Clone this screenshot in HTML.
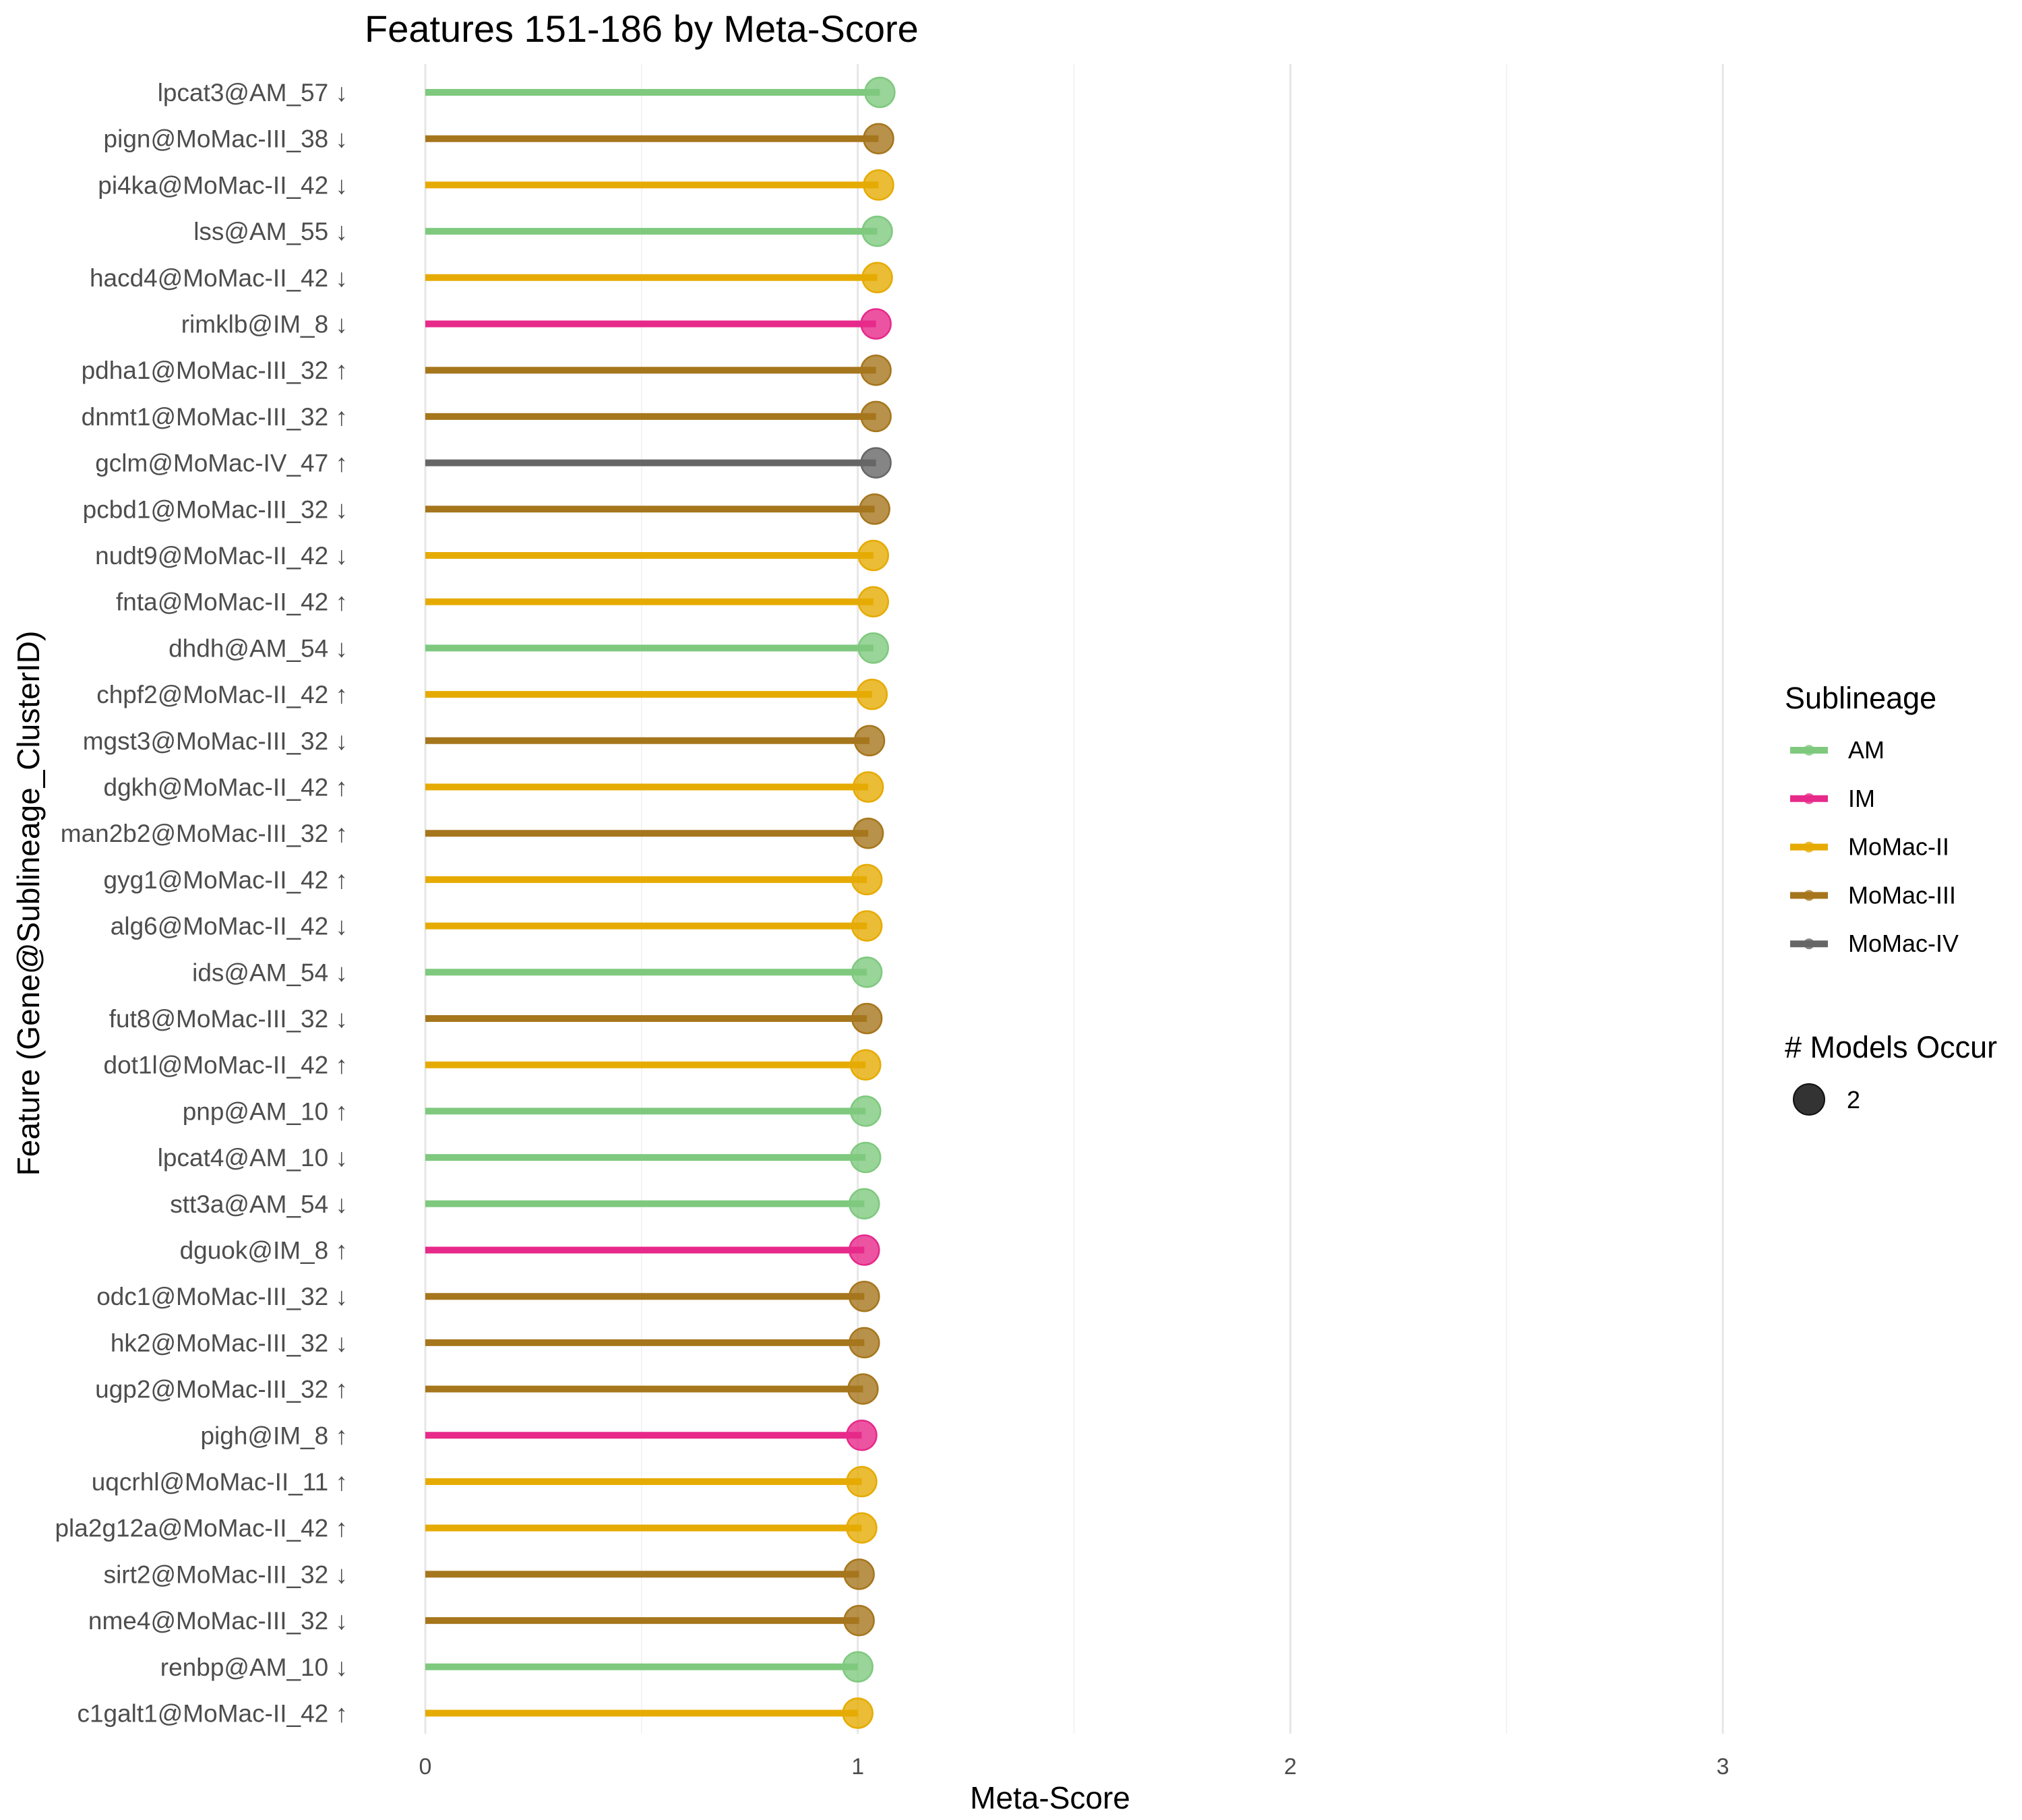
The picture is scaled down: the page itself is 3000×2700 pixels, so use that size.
<!DOCTYPE html>
<html><head><meta charset="utf-8">
<style>
html,body{margin:0;padding:0;background:#fff;}
svg{display:block;font-family:"Liberation Sans",Arial,sans-serif;}
</style></head>
<body>
<svg id="chart" width="3000" height="2700" viewBox="0 0 3000 2700" xmlns="http://www.w3.org/2000/svg">
<rect width="3000" height="2700" fill="#fff"/>
<text x="541" y="62" font-size="56" fill="#000">Features 151-186 by Meta-Score</text>
<g id="grid"></g>
<g id="marks"></g>
<g id="ylabels"></g>
<g id="xticks"></g>
<text x="1558" y="2683" font-size="46" text-anchor="middle" fill="#000">Meta-Score</text>
<text transform="translate(58,1340) rotate(-90)" font-size="46" text-anchor="middle" fill="#000">Feature (Gene@Sublineage_ClusterID)</text>
<g id="legend">
<text x="2648" y="1051" font-size="45" fill="#000">Sublineage</text>
<text x="2648" y="1569" font-size="45" fill="#000"># Models Occur</text>
<circle cx="2684" cy="1631" r="23" fill="#333" stroke="#111" stroke-width="2"/>
<text x="2740" y="1644" font-size="36" fill="#000">2</text>
</g>
</svg>
<script>
const features = ["lpcat3@AM_57 ↓","pign@MoMac-III_38 ↓","pi4ka@MoMac-II_42 ↓","lss@AM_55 ↓","hacd4@MoMac-II_42 ↓","rimklb@IM_8 ↓","pdha1@MoMac-III_32 ↑","dnmt1@MoMac-III_32 ↑","gclm@MoMac-IV_47 ↑","pcbd1@MoMac-III_32 ↓","nudt9@MoMac-II_42 ↓","fnta@MoMac-II_42 ↑","dhdh@AM_54 ↓","chpf2@MoMac-II_42 ↑","mgst3@MoMac-III_32 ↓","dgkh@MoMac-II_42 ↑","man2b2@MoMac-III_32 ↑","gyg1@MoMac-II_42 ↑","alg6@MoMac-II_42 ↓","ids@AM_54 ↓","fut8@MoMac-III_32 ↓","dot1l@MoMac-II_42 ↑","pnp@AM_10 ↑","lpcat4@AM_10 ↓","stt3a@AM_54 ↓","dguok@IM_8 ↑","odc1@MoMac-III_32 ↓","hk2@MoMac-III_32 ↓","ugp2@MoMac-III_32 ↑","pigh@IM_8 ↑","uqcrhl@MoMac-II_11 ↑","pla2g12a@MoMac-II_42 ↑","sirt2@MoMac-III_32 ↓","nme4@MoMac-III_32 ↓","renbp@AM_10 ↓","c1galt1@MoMac-II_42 ↑"];
const sublineages = ["AM","MoMac-III","MoMac-II","AM","MoMac-II","IM","MoMac-III","MoMac-III","MoMac-IV","MoMac-III","MoMac-II","MoMac-II","AM","MoMac-II","MoMac-III","MoMac-II","MoMac-III","MoMac-II","MoMac-II","AM","MoMac-III","MoMac-II","AM","AM","AM","IM","MoMac-III","MoMac-III","MoMac-III","IM","MoMac-II","MoMac-II","MoMac-III","MoMac-III","AM","MoMac-II"];
const scores = [1.051,1.048,1.048,1.045,1.045,1.042,1.042,1.042,1.042,1.039,1.036,1.036,1.036,1.033,1.027,1.024,1.024,1.021,1.021,1.021,1.021,1.018,1.018,1.018,1.015,1.015,1.015,1.015,1.012,1.009,1.009,1.009,1.003,1.003,1.000,1.000];
const xTicks = [0,1,2,3];
const xGrid = [0,0.5,1,1.5,2,2.5,3];
const legendKeys = ["AM","IM","MoMac-II","MoMac-III","MoMac-IV"];
const palette = {"AM":"#7FC97F","IM":"#E7298A","MoMac-II":"#E6AB02","MoMac-III":"#A6761D","MoMac-IV":"#666666"};

const NS="http://www.w3.org/2000/svg";
const x0=631, xUnit=641.7;
const xs = v => x0 + v*xUnit;
const ys = i => 137 + i*68.7;
const yTop=95, yBottom=2572;
function mk(tag, attrs, parent){const e=document.createElementNS(NS,tag);for(const k in attrs)e.setAttribute(k,attrs[k]);parent.appendChild(e);return e;}

const grid=document.getElementById('grid');
xGrid.forEach(v=>{
  const l=mk('line',{x1:xs(v),x2:xs(v),y1:yTop,y2:yBottom,stroke:Number.isInteger(v)?'#e6e6e6':'#f0f0f0','stroke-width':Number.isInteger(v)?3:1.5},grid);
  
  
});
const xt=document.getElementById('xticks');
xTicks.forEach(v=>{
  const t=mk('text',{x:xs(v),y:2632,'font-size':34,'text-anchor':'middle',fill:'#4d4d4d'},xt);
  t.textContent=String(v);
  
  
});
const marks=document.getElementById('marks'), yl=document.getElementById('ylabels');
features.forEach((f,i)=>{
  const c=palette[sublineages[i]], y=ys(i), x=xs(scores[i]);
  const pt=mk('circle',{cx:x,cy:y,r:22,fill:c,'fill-opacity':0.8,stroke:c,'stroke-width':2.5},marks);
  
  
  const ln=mk('line',{x1:xs(0),x2:x,y1:y,y2:y,stroke:c,'stroke-width':10},marks);
  
  
  const t=mk('text',{x:516,y:y+13,'font-size':37,'text-anchor':'end',fill:'#4d4d4d'},yl);
  t.textContent=f;
  
  
});
const lg=document.getElementById('legend');
legendKeys.forEach((k,i)=>{
  const y=1113+i*71.8, c=palette[k];
  const ln=mk('line',{x1:2656,x2:2712,y1:y,y2:y,stroke:c,'stroke-width':10},lg);
  
  
  const d=mk('circle',{cx:2684,cy:y,r:8,fill:c,'fill-opacity':0.8},lg);
  
  
  const t=mk('text',{x:2742,y:y+12,'font-size':36,fill:'#000'},lg);
  t.textContent=k;
  
  
});
</script>
</body></html>
